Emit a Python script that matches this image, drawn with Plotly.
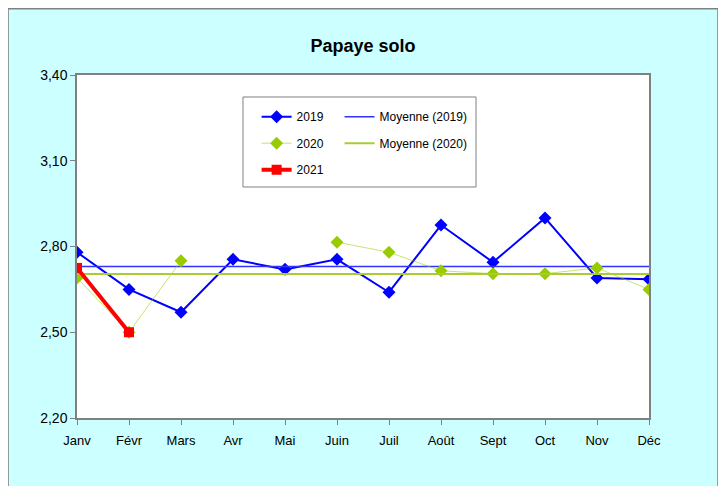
import numpy as np
import plotly.graph_objects as go

months = ["Janv", "Févr", "Mars", "Avr", "Mai", "Juin", "Juil", "Août", "Sept", "Oct", "Nov", "Déc"]
y2019 = [2.78, 2.65, 2.57, 2.755, 2.72, 2.755, 2.64, 2.875, 2.745, 2.90, 2.69, 2.685]
y2020 = [2.69, 2.50, 2.75, None, None, 2.815, 2.78, 2.715, 2.705, 2.705, 2.725, 2.65]
y2021 = [2.725, 2.50]
yticks = [2.20, 2.50, 2.80, 3.10, 3.40]

mean2019 = float(np.mean(y2019))
mean2020 = float(np.mean([v for v in y2020 if v is not None]))

fig = go.Figure()
fig.add_trace(go.Scatter(x=months, y=y2019, name="2019", mode="lines+markers",
                         legend="legend", legendgroup="a",
                         line=dict(color="#0000FF", width=2),
                         marker=dict(symbol="diamond", size=10, color="#0000FF")))
fig.add_trace(go.Scatter(x=months, y=[mean2019] * len(months), name="Moyenne (2019)", mode="lines",
                         legend="legend2", legendgroup="b",
                         line=dict(color="#3333FF", width=1.5)))
fig.add_trace(go.Scatter(x=months, y=y2020, name="2020", mode="lines+markers",
                         legend="legend", legendgroup="c",
                         line=dict(color="rgba(153,204,0,0.55)", width=1),
                         marker=dict(symbol="diamond", size=10, color="#99CC00")))
fig.add_trace(go.Scatter(x=months, y=[mean2020] * len(months), name="Moyenne (2020)", mode="lines",
                         legend="legend2", legendgroup="d",
                         line=dict(color="#AACC33", width=2)))
fig.add_trace(go.Scatter(x=months[:len(y2021)], y=y2021, name="2021", mode="lines+markers",
                         legend="legend", legendgroup="e",
                         line=dict(color="#FF0000", width=4),
                         marker=dict(symbol="square", size=10, color="#FF0000")))

legend_font = dict(family="Liberation Sans, Arial, sans-serif", size=12, color="black")
fig.update_layout(
    width=718, height=478,
    margin=dict(l=69, r=77, t=67, b=68),
    paper_bgcolor="white",
    plot_bgcolor="rgba(0,0,0,0)",
    separators=", ",
    font=dict(family="Liberation Sans, Arial, sans-serif", size=12, color="black"),
    title=dict(text="<b>Papaye solo</b>", x=0.5, xanchor="center", xref="paper",
               y=1 - 38 / 478, yanchor="middle",
               font=dict(family="Liberation Sans, Arial, sans-serif", size=18, color="black")),
    showlegend=True,
    legend=dict(orientation="v", x=0.3140, y=0.9208, xanchor="left", yanchor="top",
                bgcolor="rgba(0,0,0,0)", borderwidth=0, tracegroupgap=7.5, font=legend_font),
    legend2=dict(orientation="v", x=0.4590, y=0.9208, xanchor="left", yanchor="top",
                 bgcolor="rgba(0,0,0,0)", borderwidth=0, tracegroupgap=7.5, font=legend_font),
    shapes=[
        dict(type="rect", xref="paper", yref="paper", x0=-0.1206, x1=1.1206, y0=-0.6, y1=1.193,
             fillcolor="#CCFFFF", line=dict(color="#808080", width=1.5), layer="below"),
        dict(type="rect", xref="paper", yref="paper", x0=0, x1=1, y0=0, y1=1,
             fillcolor="white", line=dict(width=0), layer="below"),
        dict(type="rect", xref="paper", yref="paper", x0=0.2902, x1=0.6976, y0=0.6735, y1=0.9359,
             fillcolor="white", line=dict(color="#808080", width=1), layer="below"),
    ],
)
fig.update_xaxes(type="category", range=[0, 11], showgrid=False, zeroline=False,
                 showline=True, linecolor="#808080", linewidth=1.5, mirror=True,
                 ticks="outside", ticklen=5, tickcolor="#808080", ticklabelstandoff=5,
                 tickfont=dict(family="Liberation Sans, Arial, sans-serif", size=13))
fig.update_yaxes(range=[2.20, 3.40], tickvals=yticks, tickformat=".2f", showgrid=False, zeroline=False,
                 showline=True, linecolor="#808080", linewidth=1.5, mirror=True,
                 ticks="outside", ticklen=5, tickcolor="#808080",
                 tickfont=dict(family="Liberation Sans, Arial, sans-serif", size=14))

fig.write_html("out.html")
